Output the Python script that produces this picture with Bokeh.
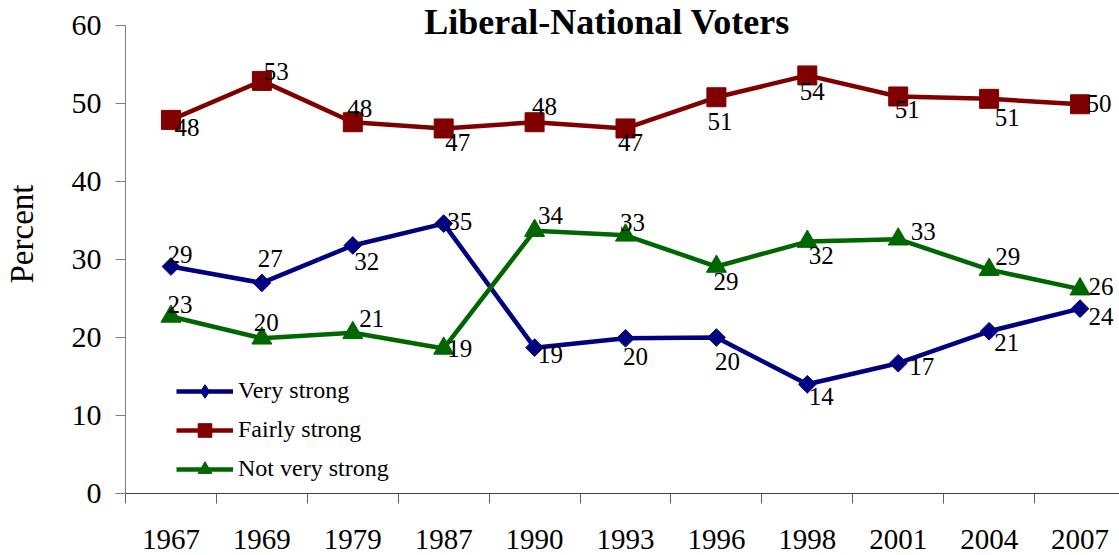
import numpy as np
from bokeh.plotting import figure
from bokeh.models import (Range1d, FixedTicker, Legend, LegendItem, Label, Title,
                          ColumnDataSource)
from bokeh.core.properties import value
from bokeh.embed import file_html
from bokeh.resources import INLINE

# ---- data ----
years = ["1967", "1969", "1979", "1987", "1990", "1993", "1996", "1998", "2001", "2004", "2007"]
very_strong = [29.1, 27.0, 31.8, 34.6, 18.7, 19.9, 20.0, 14.0, 16.7, 20.8, 23.7]
fairly_strong = [47.9, 52.9, 47.6, 46.8, 47.6, 46.8, 50.8, 53.6, 50.9, 50.6, 49.9]
not_very_strong = [22.7, 19.9, 20.6, 18.6, 33.7, 33.1, 29.1, 32.3, 32.6, 28.7, 26.2]
series_names = ["Very strong", "Fairly strong", "Not very strong"]
y_ticks = [0, 10, 20, 30, 40, 50, 60]
title_text = "Liberal-National Voters"
y_title = "Percent"

# ---- styles: data-label offsets in screen pixels (right, down) ----
vs_dx = [9, 8.5, 14, 16, 16, 10, 11, 14, 23.5, 17.5, 21]
vs_dy = [-12, -24, 16, -2, 6.5, 18, 24, 12, 3, 11, 8]
fs_dx = [16, 14.5, 7, 14, 10, 5, 3.5, 5, 9, 18, 19]
fs_dy = [7.5, -9.5, -14, 14, -15.5, 14, 24.5, 16.5, 13, 19, -1]
nv_dx = [9, 4.5, 19, 16, 16, 7, 9.5, 14, 25, 18.5, 21]
nv_dy = [-12, -16, -14.5, 0, -15, -13, 15, 14, -8, -13, -3]

colors = ["#000080", "#800000", "#006600"]
FONT = "'Liberation Serif', 'Times New Roman', serif"

xs = list(range(len(years)))

# frame: x from px 124 to 1119 (91 px per category), y from px 0 to 493 (7.8 px per unit)
p = figure(width=1119, height=555,
           x_range=Range1d(-0.5, 10.434), y_range=Range1d(0, 493 / 7.8),
           output_backend="svg", toolbar_location=None,
           min_border_left=124, min_border_right=0,
           min_border_top=0, min_border_bottom=62)
p.outline_line_color = None
p.xgrid.visible = False
p.ygrid.visible = False
p.background_fill_color = "white"
p.border_fill_color = "white"

# y axis
p.yaxis.bounds = (0, 60)
p.yaxis.ticker = FixedTicker(ticks=y_ticks)
p.yaxis.major_tick_out = 10
p.yaxis.major_tick_in = 0
p.yaxis.minor_tick_line_color = None
p.yaxis.axis_line_color = "#808080"
p.yaxis.major_tick_line_color = "#808080"
p.yaxis.major_label_text_font = FONT
p.yaxis.major_label_text_font_size = "30px"
p.yaxis.major_label_text_color = "black"
p.yaxis.major_label_standoff = 14
# blank axis label: only reserves room so the axis title sits at the far left
p.yaxis.axis_label = "\u00a0"
p.yaxis.axis_label_text_font_size = "10px"
p.yaxis.axis_label_standoff = 10

p.add_layout(Title(text=y_title, align="left", offset=210, vertical_align="top",
                   standoff=6, text_font=FONT, text_font_size="33px",
                   text_font_style="normal", text_color="black"), "left")

# x axis: labels at category centres, tick marks between categories
p.xaxis.ticker = FixedTicker(ticks=xs, minor_ticks=[i - 0.5 for i in range(len(years) + 1)])
p.xaxis.major_label_overrides = {i: y for i, y in enumerate(years)}
p.xaxis.major_tick_out = 0
p.xaxis.major_tick_in = 0
p.xaxis.minor_tick_out = 10
p.xaxis.minor_tick_in = 0
p.xaxis.minor_tick_line_color = "#606060"
p.xaxis.axis_line_color = "#404040"
p.xaxis.major_label_text_font = FONT
p.xaxis.major_label_text_font_size = "29px"
p.xaxis.major_label_text_color = "black"
p.xaxis.major_label_standoff = 26

series = [very_strong, fairly_strong, not_very_strong]
markers = [("square", 12.5, np.pi / 4), ("square", 19, 0.0), ("triangle", 20, 0.0)]
items = []
for k, (name, vals, col, (mk, sz, ang)) in enumerate(zip(series_names, series, colors, markers)):
    lr = p.line(xs, vals, line_color=col, line_width=4.5)
    legend_marker = None
    if k == 0:
        # small diamond hidden beneath each rotated square: gives the legend its diamond swatch
        legend_marker = p.scatter(xs, vals, marker="diamond", size=10,
                                  fill_color=col, line_color=col)
    sr = p.scatter(xs, vals, marker=mk, size=sz, angle=ang,
                   fill_color=col, line_color=col, line_width=1)
    items.append(LegendItem(label=name, renderers=[lr, legend_marker or sr]))

# data labels
for vals, dxs, dys in [(very_strong, vs_dx, vs_dy), (fairly_strong, fs_dx, fs_dy),
                       (not_very_strong, nv_dx, nv_dy)]:
    src = ColumnDataSource(dict(
        x=xs, y=vals, text=[str(int(np.floor(v + 0.5))) for v in vals],
        dx=dxs, dy=dys))
    p.text(x="x", y="y", text="text", x_offset="dx", y_offset="dy", source=src,
           text_font=value(FONT), text_font_size="25px", text_color="black",
           text_align="center", text_baseline="middle")

legend = Legend(items=items, location=(51, 5), orientation="vertical",
                padding=0, margin=0, spacing=0,
                glyph_width=57, glyph_height=34, label_height=39, label_standoff=5,
                label_text_font=FONT, label_text_font_size="24px",
                label_text_color="black",
                border_line_alpha=0, background_fill_alpha=0)
p.add_layout(legend)

p.add_layout(Label(x=4.797, y=60.5, text=title_text, text_font=FONT,
                   text_font_style="bold", text_font_size="36px",
                   text_align="center", text_baseline="alphabetic",
                   text_color="black"))

open("out.html", "w").write(file_html(p, INLINE))
